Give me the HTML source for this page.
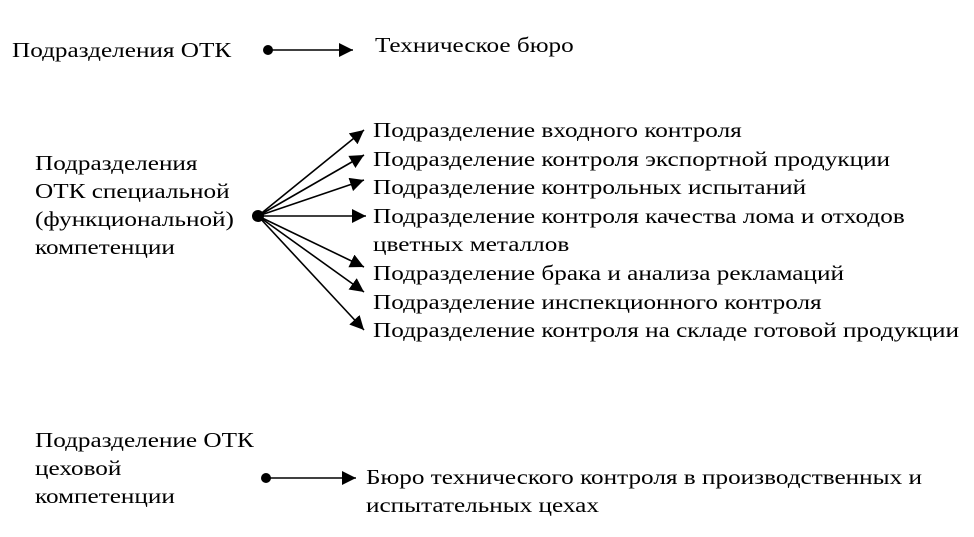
<!DOCTYPE html>
<html><head><meta charset="utf-8"><style>
body{margin:0;width:974px;height:537px;background:#fff;position:relative;overflow:hidden;font-family:"Liberation Serif",serif;font-size:21px;color:#000}
.t{position:absolute;white-space:nowrap;line-height:28px;transform:scaleX(1.2);transform-origin:0 0}
svg{position:absolute;left:0;top:0}
</style></head><body>
<svg width="974" height="537">
<defs><marker id="a" viewBox="0 0 10 10" refX="10" refY="5" markerWidth="14" markerHeight="14" markerUnits="userSpaceOnUse" orient="auto"><path d="M0,0 L10,5 L0,10z"/></marker></defs>
<g stroke="#000" stroke-width="1.6" fill="none">
<line x1="268" y1="50" x2="353" y2="50" marker-end="url(#a)"/>
<line x1="258" y1="216" x2="364" y2="130" marker-end="url(#a)"/>
<line x1="258" y1="216" x2="364" y2="155" marker-end="url(#a)"/>
<line x1="258" y1="216" x2="364" y2="180" marker-end="url(#a)"/>
<line x1="258" y1="216" x2="366" y2="216" marker-end="url(#a)"/>
<line x1="258" y1="216" x2="364" y2="267" marker-end="url(#a)"/>
<line x1="258" y1="216" x2="364" y2="292" marker-end="url(#a)"/>
<line x1="258" y1="216" x2="364" y2="330" marker-end="url(#a)"/>
<line x1="266" y1="478" x2="356" y2="478" marker-end="url(#a)"/>
</g>
<circle cx="268" cy="50" r="5"/><circle cx="258" cy="216" r="6"/><circle cx="266" cy="478" r="5"/>
</svg>
<div class="t" style="left:12px;top:36px">Подразделения ОТК</div>
<div class="t" style="left:375px;top:31px">Техническое бюро</div>
<div class="t" style="left:35px;top:149px">Подразделения<br>ОТК специальной<br>(функциональной)<br>компетенции</div>
<div class="t" style="left:373px;top:116px;line-height:28.6px">Подразделение входного контроля<br>Подразделение контроля экспортной продукции<br>Подразделение контрольных испытаний<br>Подразделение контроля качества лома и отходов<br>цветных металлов<br>Подразделение брака и анализа рекламаций<br>Подразделение инспекционного контроля<br>Подразделение контроля на складе готовой продукции</div>
<div class="t" style="left:35px;top:426px">Подразделение ОТК<br>цеховой<br>компетенции</div>
<div class="t" style="left:366px;top:463px">Бюро технического контроля в производственных и<br>испытательных цехах</div>
</body></html>
